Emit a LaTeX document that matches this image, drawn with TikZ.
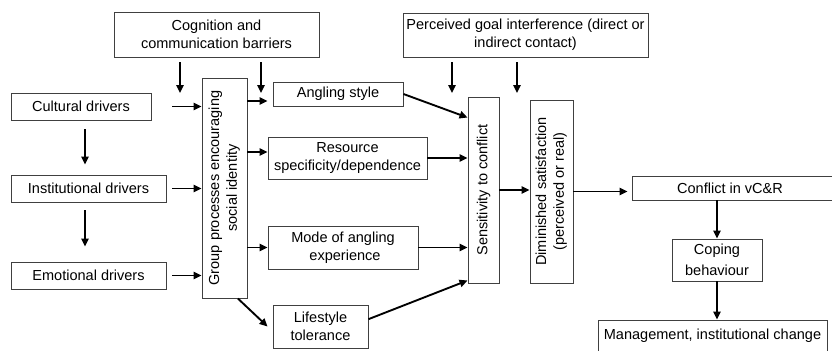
\documentclass[tikz,border=0pt]{standalone}
\usepackage{fontspec}
\setmainfont{Liberation Sans}
\usepackage{graphicx}
\usetikzlibrary{arrows.meta}

\begin{document}
\begin{tikzpicture}[x=0.03cm, y=-0.03cm,
    box/.style={draw=black!75, line width=0.8pt, inner sep=1pt, align=center,
        font=\fontsize{12.4}{15}\selectfont},
    arr/.style={line width=1.6pt, -{Triangle[length=0.24cm, width=0.22cm]}}]
    \useasboundingbox (0,0) rectangle (832,350);
    \clip (0,0) rectangle (832,350);
    % top boxes
    \node [box, minimum width=6.15cm, minimum height=1.35cm] (cog) at (216.5,34.5) {Cognition and\\communication barriers};
    \node [box, minimum width=7.35cm, minimum height=1.32cm] (perc) at (525.5,35) {Perceived goal interference (direct or\\indirect contact)};
    % drivers
    \node [box, minimum width=4.2cm, minimum height=0.81cm] (cult) at (81,106.5) {Cultural drivers};
    \node [box, minimum width=4.65cm, minimum height=0.81cm] (inst) at (88.5,188.5) {Institutional drivers};
    \node [box, minimum width=4.65cm, minimum height=0.81cm] (emo) at (88.5,275.5) {Emotional drivers};
    \node [box, minimum width=1.35cm, minimum height=6.6cm] (group) at (224.5,188)
        {\rotatebox{90}{\begin{tabular}{@{}c@{}}Group processes encouraging\\social identity\end{tabular}}};
    % middle column
    \node [box, minimum width=3.9cm, minimum height=0.72cm] (ang) at (338,94) {Angling style};
    \node [box, minimum width=4.77cm, minimum height=1.26cm] (res) at (347.5,158) {Resource\\specificity/dependence};
    \node [box, minimum width=4.5cm, minimum height=1.29cm] (mode) at (343,247.5) {Mode of angling\\\ experience};
    \node [box, minimum width=2.85cm, minimum height=1.29cm] (life) at (320.5,326.5) {Lifestyle\\tolerance};
    \node [box, minimum width=0.93cm, minimum height=5.58cm] (sens) at (483.5,190)
        {\rotatebox{90}{Sensitivity to conflict}};
    \node [box, minimum width=1.29cm, minimum height=5.49cm] (dim) at (551.5,191.5)
        {\rotatebox{90}{\begin{tabular}{@{}c@{}}Diminished satisfaction\\(perceived or real)\end{tabular}}};
    % right column
    \node [box, minimum width=6.54cm, minimum height=0.72cm] (conf) at (741,188) {Conflict in vC\&R\hspace{0.66cm}};
    \node [box, minimum width=2.7cm, minimum height=1.26cm] (cope) at (717,260) {Coping\\[3pt]behaviour};
    \node [box, minimum width=6.87cm, minimum height=1.2cm, text depth=10pt] (mgmt) at (712.5,340) {Management, institutional change};

    \coordinate (c1) at (180,93);
    \coordinate (c2) at (261,93);
    \coordinate (c3) at (452,93);
    \coordinate (c4) at (517,93);
    \coordinate (v1) at (85,0);
    \coordinate (r1) at (0,101);
    \coordinate (r2) at (0,152);
    \draw [arr, shorten <=0.15cm] (cog.south -| c1) -- (c1);
    \draw [arr, shorten <=0.15cm] (cog.south -| c2) -- (c2);
    \draw [arr, shorten <=0.15cm] (perc.south -| c3) -- (c3);
    \draw [arr, shorten <=0.15cm] (perc.south -| c4) -- (c4);
    \draw [arr, shorten <=0.63cm] (cult.east) -- (cult.east -| group.west);
    \draw [arr, shorten <=0.18cm] (inst.east) -- (inst.east -| group.west);
    \draw [arr, shorten <=0.18cm] (emo.east) -- (emo.east -| group.west);
    \draw [arr, shorten <=0.27cm, shorten >=0.3cm] (cult.south -| v1) -- (inst.north -| v1);
    \draw [arr, shorten <=0.24cm, shorten >=0.45cm] (inst.south -| v1) -- (emo.north -| v1);
    \draw [arr, shorten >=0.15cm] (group.east |- r1) -- (ang.west |- r1);
    \draw [arr] (group.east |- r2) -- (res.west |- r2);
    \draw [arr] (group.east |- mode) -- (mode.west);
    \draw [arr] ([xshift=0.4cm]group.south) -- ([xshift=-0.15cm]life.west);
    \draw [arr] (ang.east) -- ([yshift=-0.63cm]sens.north west);
    \draw [arr] (res.east) -- (res.east -| sens.west);
    \draw [arr] (mode.east) -- (mode.east -| sens.west);
    \draw [arr] ([yshift=0.22cm]life.east) -- ([yshift=0.09cm]sens.south west);
    \draw [arr] (sens.east) -- (sens.east -| dim.west);
    \draw [arr, shorten >=0.12cm] (dim.east) -- (dim.east -| conf.west);
    \draw [arr] (cope.north |- conf.south) -- (cope.north);
    \draw [arr] (cope.south) -- (cope.south |- mgmt.north);
\end{tikzpicture}
\end{document}
